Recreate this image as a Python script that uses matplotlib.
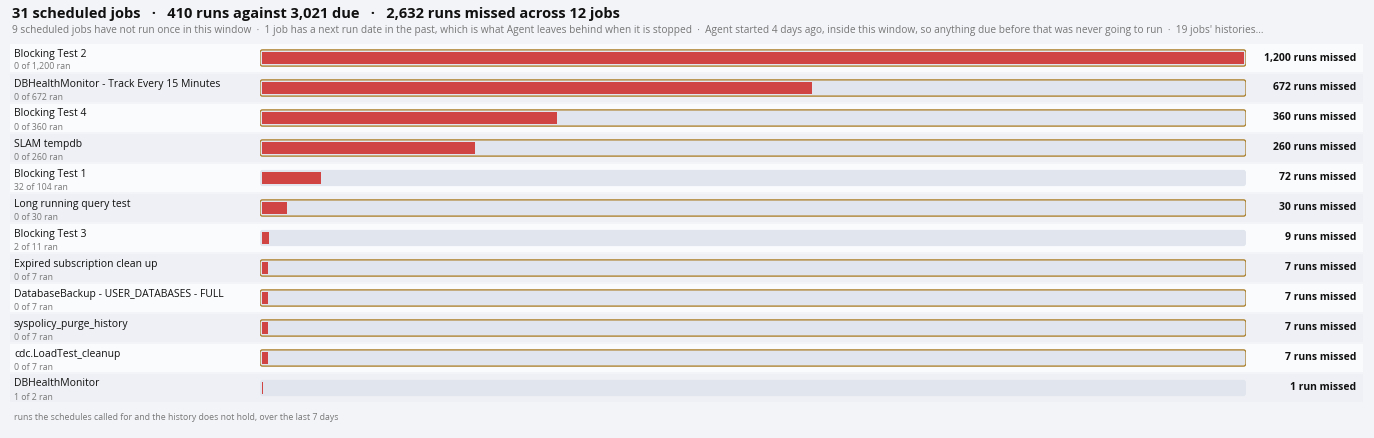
import matplotlib
matplotlib.use("Agg")
import matplotlib.pyplot as plt
from matplotlib.patches import Rectangle, FancyBboxPatch

jobs = ["Blocking Test 2", "DBHealthMonitor - Track Every 15 Minutes", "Blocking Test 4", "SLAM tempdb",
        "Blocking Test 1", "Long running query test", "Blocking Test 3", "Expired subscription clean up",
        "DatabaseBackup - USER_DATABASES - FULL", "syspolicy_purge_history", "cdc.LoadTest_cleanup", "DBHealthMonitor"]
ran = [0, 0, 0, 0, 32, 0, 2, 0, 0, 0, 0, 1]
due = [1200, 672, 360, 260, 104, 30, 11, 7, 7, 7, 7, 2]
missed = [1200, 672, 360, 260, 72, 30, 9, 7, 7, 7, 7, 1]

W, H = 1374, 438
fig = plt.figure(figsize=(W/100, H/100), dpi=100)
fig.patch.set_facecolor("#f3f4f8")
font = ["Open Sans", "DejaVu Sans"]

def fy(py): return 1 - py/H
def fx(px): return px/W

fig.text(fx(12), fy(14), "31 scheduled jobs   ·   410 runs against 3,021 due   ·   2,632 runs missed across 12 jobs",
         fontsize=10.5, fontweight="bold", va="center", family=font, color="#111")
fig.text(fx(12), fy(31), "9 scheduled jobs have not run once in this window  ·  1 job has a next run date in the past, which is what Agent leaves behind when it is stopped  ·  Agent started 4 days ago, inside this window, so anything due before that was never going to run  ·  19 jobs' histories...",
         fontsize=7.3, va="center", family=font, color="#777")
fig.text(fx(14), fy(417), "runs the schedules called for and the history does not hold, over the last 7 days",
         fontsize=6.3, va="center", family=font, color="#777")

n = len(jobs)
top, rowh = 43, 30
ax = fig.add_axes([fx(260), fy(top + n*rowh), fx(986), n*rowh/H])
ax.set_zorder(5)
ax.patch.set_visible(False)
ax.set_xlim(-2.5, 1202.5)
ax.set_ylim(n, 0)
ax.axis("off")

for i in range(n):
    y0 = top + i*rowh
    bg = "#fafbfd" if i % 2 == 0 else "#eef0f5"
    fig.patches.append(Rectangle((fx(10), fy(y0+rowh-1)), fx(1353), (rowh-2)/H,
                                 transform=fig.transFigure, facecolor=bg, edgecolor="none", zorder=0))
    fig.text(fx(14), fy(y0+11), jobs[i], fontsize=7.5, va="center", family=font, color="#111")
    fig.text(fx(14), fy(y0+24), f"{ran[i]} of {due[i]:,} ran", fontsize=6.3, va="center", family=font, color="#777")
    lab = f"{missed[i]:,} run{'s' if missed[i] != 1 else ''} missed"
    fig.text(fx(1356), fy(y0+15), lab, fontsize=7.5, fontweight="bold", va="center", ha="right", family=font, color="#111")
    yc = i + 0.5
    outline = ran[i] == 0
    ax.add_patch(FancyBboxPatch((-2.5, yc-0.27), 1205, 0.54, boxstyle="round,pad=0,rounding_size=3",
                                mutation_aspect=0.03, facecolor="#e1e6ee",
                                edgecolor="#a87a20" if outline else "none", linewidth=0.9))
    ax.barh(yc, missed[i], height=0.4, left=0, color="#d04444")

fig.savefig("out.png", dpi=100, facecolor=fig.get_facecolor())
